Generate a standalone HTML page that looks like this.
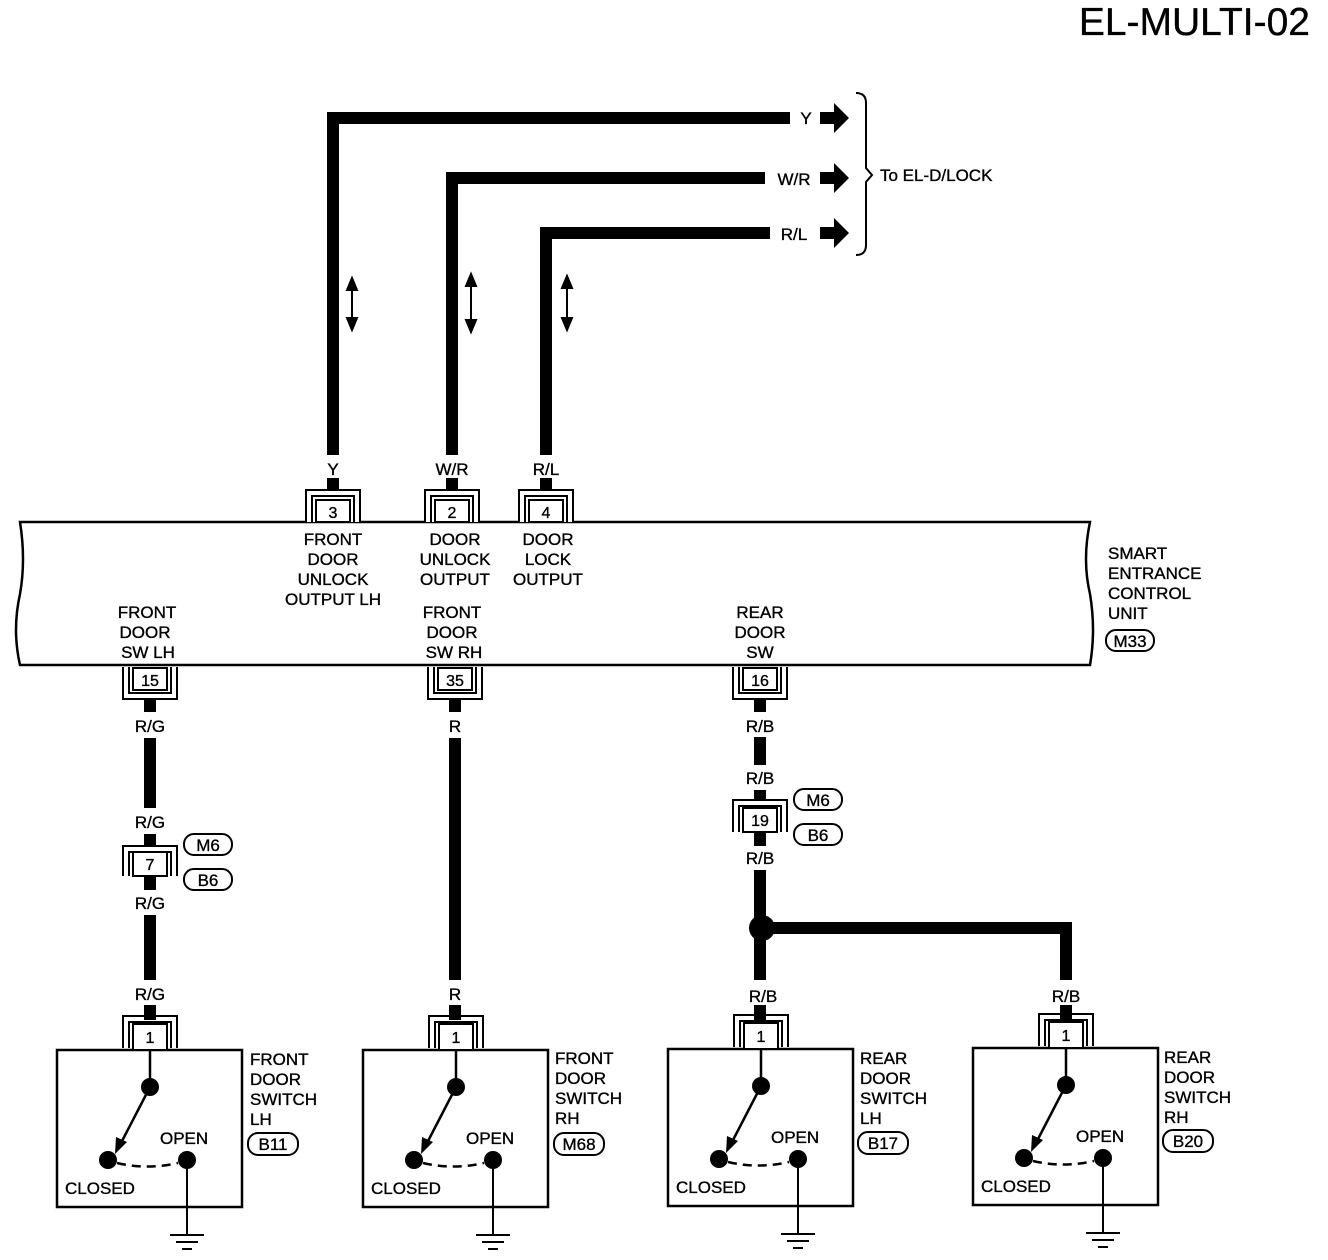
<!DOCTYPE html>
<html><head><meta charset="utf-8"><style>
html,body{margin:0;padding:0;background:#fff;}
svg{display:block;}
text{font-family:"Liberation Sans",sans-serif;font-size:17px;fill:#000;stroke:#000;stroke-width:0.35;}
.c{text-anchor:middle;}
</style></head><body>
<svg width="1328" height="1260" viewBox="0 0 1328 1260" xmlns="http://www.w3.org/2000/svg">
<text x="1310" y="35" style="font-size:39px" text-anchor="end">EL-MULTI-02</text>

<!-- top wires -->
<g fill="none" stroke="#000" stroke-width="12">
<path d="M333,455 V118 H790"/>
<path d="M452,455 V178 H765"/>
<path d="M546,455 V233 H770"/>
<path d="M333,478 V492 M452,478 V492 M546,478 V492"/>
</g>
<text x="806" y="124" class="c">Y</text>
<text x="794" y="185" class="c">W/R</text>
<text x="794" y="240" class="c">R/L</text>
<g fill="#000">
<path d="M820,112 H834 V103 L849,118 L834,133 V124 H820 Z"/>
<path d="M820,172 H834 V163 L849,178 L834,193 V184 H820 Z"/>
<path d="M820,227 H834 V218 L849,233 L834,248 V239 H820 Z"/>
</g>
<path d="M856,93 Q866,93 866,103 V168 L872,175 L866,182 V245 Q866,255 856,255" fill="none" stroke="#000" stroke-width="2"/>
<text x="880" y="181">To EL-D/LOCK</text>

<!-- double arrows -->
<g stroke="#000" stroke-width="2" fill="#000">
<line x1="352" y1="282" x2="352" y2="326"/><path d="M347,290 L352,278 L357,290Z M347,318 L352,330 L357,318Z"/>
<line x1="471" y1="278" x2="471" y2="328"/><path d="M466,286 L471,274 L476,286Z M466,320 L471,332 L476,320Z"/>
<line x1="567" y1="280" x2="567" y2="326"/><path d="M562,288 L567,276 L572,288Z M562,318 L567,330 L572,318Z"/>
</g>
<text x="333" y="475" class="c">Y</text>
<text x="452" y="475" class="c">W/R</text>
<text x="546" y="475" class="c">R/L</text>

<!-- unit box -->
<path d="M20,522 H1090 Q1082,560 1090,594 Q1096,630 1090,665 H20 Q12,630 20,594 Q26,560 20,522 Z" fill="#fff" stroke="#000" stroke-width="2.5"/>

<!-- top connectors -->
<g fill="#fff" stroke="#000" stroke-width="2">
<path d="M306,522 V490 H360 V522 M312,522 V496 H354 V522"/>
<rect x="316" y="500" width="34" height="22"/>
<path d="M425,522 V490 H479 V522 M431,522 V496 H473 V522"/>
<rect x="435" y="500" width="34" height="22"/>
<path d="M519,522 V490 H573 V522 M525,522 V496 H567 V522"/>
<rect x="529" y="500" width="34" height="22"/>
</g>
<text x="333" y="518" class="c" style="font-size:16px">3</text>
<text x="452" y="518" class="c" style="font-size:16px">2</text>
<text x="546" y="518" class="c" style="font-size:16px">4</text>

<g class="c">
<text x="333" y="545" class="c">FRONT</text><text x="333" y="565" class="c">DOOR</text><text x="333" y="585" class="c">UNLOCK</text><text x="333" y="605" class="c">OUTPUT LH</text>
<text x="455" y="545" class="c">DOOR</text><text x="455" y="565" class="c">UNLOCK</text><text x="455" y="585" class="c">OUTPUT</text>
<text x="548" y="545" class="c">DOOR</text><text x="548" y="565" class="c">LOCK</text><text x="548" y="585" class="c">OUTPUT</text>
<text x="147" y="618" class="c">FRONT</text><text x="145" y="638" class="c">DOOR</text><text x="148" y="658" class="c">SW LH</text>
<text x="452" y="618" class="c">FRONT</text><text x="452" y="638" class="c">DOOR</text><text x="454" y="658" class="c">SW RH</text>
<text x="760" y="618" class="c">REAR</text><text x="760" y="638" class="c">DOOR</text><text x="760" y="658" class="c">SW</text>
</g>
<text x="1108" y="559">SMART</text><text x="1108" y="579">ENTRANCE</text><text x="1108" y="599">CONTROL</text><text x="1108" y="619">UNIT</text>
<rect x="1106" y="630" width="48" height="21" rx="10" fill="none" stroke="#000" stroke-width="2"/>
<text x="1130" y="647" class="c">M33</text>

<!-- bottom connectors on unit -->
<g fill="#fff" stroke="#000" stroke-width="2">
<path d="M123,667 V699 H177 V667 M129,667 V693 H171 V667"/>
<rect x="133" y="668" width="34" height="22"/>
<path d="M428,667 V699 H482 V667 M434,667 V693 H476 V667"/>
<rect x="438" y="668" width="34" height="22"/>
<path d="M733,667 V699 H787 V667 M739,667 V693 H781 V667"/>
<rect x="743" y="668" width="34" height="22"/>
</g>
<text x="150" y="686" class="c" style="font-size:16px">15</text>
<text x="455" y="686" class="c" style="font-size:16px">35</text>
<text x="760" y="686" class="c" style="font-size:16px">16</text>

<!-- lower wires -->
<g stroke="#000" stroke-width="12" fill="none">
<path d="M150,699 V712 M150,738 V808 M150,834 V848 M150,876 V890 M150,915 V980 M150,1005 V1020"/>
<path d="M455,699 V712 M455,738 V980 M455,1005 V1020"/>
<path d="M760,699 V712 M760,737 V765 M760,790 V808 M760,832 V846 M760,870 V980 M760,1005 V1020 M760,928 H1066 V980 M1066,1005 V1020"/>
</g>
<circle cx="762" cy="928" r="13" fill="#000"/>
<text x="150" y="732" class="c">R/G</text>
<text x="150" y="828" class="c">R/G</text>
<text x="150" y="909" class="c">R/G</text>
<text x="150" y="1000" class="c">R/G</text>
<text x="455" y="732" class="c">R</text>
<text x="455" y="1000" class="c">R</text>
<text x="760" y="732" class="c">R/B</text>
<text x="760" y="784" class="c">R/B</text>
<text x="760" y="864" class="c">R/B</text>
<text x="763" y="1002" class="c">R/B</text>
<text x="1066" y="1002" class="c">R/B</text>

<!-- connector 7 / 19 -->
<g fill="#fff" stroke="#000" stroke-width="2">
<path d="M123,876 V846 H177 V876 M129,876 V852 H171 V876"/>
<rect x="133" y="852" width="34" height="24"/>
<path d="M733,832 V800 H787 V832 M739,832 V806 H781 V832"/>
<rect x="743" y="808" width="34" height="24"/>
</g>
<text x="150" y="870" class="c" style="font-size:16px">7</text>
<text x="760" y="826" class="c" style="font-size:16px">19</text>
<g fill="none" stroke="#000" stroke-width="2">
<rect x="184" y="834" width="48" height="21" rx="10"/>
<rect x="184" y="869" width="48" height="21" rx="10"/>
<rect x="794" y="789" width="48" height="21" rx="10"/>
<rect x="794" y="824" width="48" height="21" rx="10"/>
</g>
<text x="208" y="851" class="c">M6</text>
<text x="208" y="886" class="c">B6</text>
<text x="818" y="806" class="c">M6</text>
<text x="818" y="841" class="c">B6</text>

<!-- switches -->
<g transform="translate(57,1050)">
<rect x="0" y="0" width="185" height="157" fill="none" stroke="#000" stroke-width="2.5"/>
<path d="M66,-2 V-34 H120 V-2 M72,-2 V-28 H114 V-2" fill="none" stroke="#000" stroke-width="2"/>
<rect x="76" y="-26" width="34" height="26" fill="#fff" stroke="#000" stroke-width="2"/>
<text x="93" y="-7" class="c" style="font-size:16px">1</text>
<line x1="93" y1="0" x2="93" y2="37" stroke="#000" stroke-width="2.5"/>
<circle cx="93" cy="37" r="9"/>
<line x1="93" y1="37" x2="64" y2="93" stroke="#000" stroke-width="2.5"/>
<path d="M58,104 L59,87 L70,92 Z"/>
<circle cx="51" cy="110" r="9"/><circle cx="130" cy="110" r="9"/>
<path d="M60,113 Q90,120 121,113" fill="none" stroke="#000" stroke-width="2.5" stroke-dasharray="9,6"/>
<line x1="130" y1="110" x2="130" y2="185" stroke="#000" stroke-width="2"/>
<path d="M113,185 H147 M119,192 H141 M125,199 H135" stroke="#000" stroke-width="2"/>
<text x="103" y="94">OPEN</text>
<text x="8" y="144">CLOSED</text>
</g>
<g transform="translate(363,1050)">
<rect x="0" y="0" width="185" height="157" fill="none" stroke="#000" stroke-width="2.5"/>
<path d="M66,-2 V-34 H120 V-2 M72,-2 V-28 H114 V-2" fill="none" stroke="#000" stroke-width="2"/>
<rect x="76" y="-26" width="34" height="26" fill="#fff" stroke="#000" stroke-width="2"/>
<text x="93" y="-7" class="c" style="font-size:16px">1</text>
<line x1="93" y1="0" x2="93" y2="37" stroke="#000" stroke-width="2.5"/>
<circle cx="93" cy="37" r="9"/>
<line x1="93" y1="37" x2="64" y2="93" stroke="#000" stroke-width="2.5"/>
<path d="M58,104 L59,87 L70,92 Z"/>
<circle cx="51" cy="110" r="9"/><circle cx="130" cy="110" r="9"/>
<path d="M60,113 Q90,120 121,113" fill="none" stroke="#000" stroke-width="2.5" stroke-dasharray="9,6"/>
<line x1="130" y1="110" x2="130" y2="185" stroke="#000" stroke-width="2"/>
<path d="M113,185 H147 M119,192 H141 M125,199 H135" stroke="#000" stroke-width="2"/>
<text x="103" y="94">OPEN</text>
<text x="8" y="144">CLOSED</text>
</g>
<g transform="translate(668,1049)">
<rect x="0" y="0" width="185" height="157" fill="none" stroke="#000" stroke-width="2.5"/>
<path d="M66,-2 V-34 H120 V-2 M72,-2 V-28 H114 V-2" fill="none" stroke="#000" stroke-width="2"/>
<rect x="76" y="-26" width="34" height="26" fill="#fff" stroke="#000" stroke-width="2"/>
<text x="93" y="-7" class="c" style="font-size:16px">1</text>
<line x1="93" y1="0" x2="93" y2="37" stroke="#000" stroke-width="2.5"/>
<circle cx="93" cy="37" r="9"/>
<line x1="93" y1="37" x2="64" y2="93" stroke="#000" stroke-width="2.5"/>
<path d="M58,104 L59,87 L70,92 Z"/>
<circle cx="51" cy="110" r="9"/><circle cx="130" cy="110" r="9"/>
<path d="M60,113 Q90,120 121,113" fill="none" stroke="#000" stroke-width="2.5" stroke-dasharray="9,6"/>
<line x1="130" y1="110" x2="130" y2="185" stroke="#000" stroke-width="2"/>
<path d="M113,185 H147 M119,192 H141 M125,199 H135" stroke="#000" stroke-width="2"/>
<text x="103" y="94">OPEN</text>
<text x="8" y="144">CLOSED</text>
</g>
<g transform="translate(973,1048)">
<rect x="0" y="0" width="185" height="157" fill="none" stroke="#000" stroke-width="2.5"/>
<path d="M66,-2 V-34 H120 V-2 M72,-2 V-28 H114 V-2" fill="none" stroke="#000" stroke-width="2"/>
<rect x="76" y="-26" width="34" height="26" fill="#fff" stroke="#000" stroke-width="2"/>
<text x="93" y="-7" class="c" style="font-size:16px">1</text>
<line x1="93" y1="0" x2="93" y2="37" stroke="#000" stroke-width="2.5"/>
<circle cx="93" cy="37" r="9"/>
<line x1="93" y1="37" x2="64" y2="93" stroke="#000" stroke-width="2.5"/>
<path d="M58,104 L59,87 L70,92 Z"/>
<circle cx="51" cy="110" r="9"/><circle cx="130" cy="110" r="9"/>
<path d="M60,113 Q90,120 121,113" fill="none" stroke="#000" stroke-width="2.5" stroke-dasharray="9,6"/>
<line x1="130" y1="110" x2="130" y2="185" stroke="#000" stroke-width="2"/>
<path d="M113,185 H147 M119,192 H141 M125,199 H135" stroke="#000" stroke-width="2"/>
<text x="103" y="94">OPEN</text>
<text x="8" y="144">CLOSED</text>
</g>

<!-- switch labels -->
<text x="250" y="1065">FRONT</text><text x="250" y="1085">DOOR</text><text x="250" y="1105">SWITCH</text><text x="250" y="1125">LH</text>
<text x="555" y="1064">FRONT</text><text x="555" y="1084">DOOR</text><text x="555" y="1104">SWITCH</text><text x="555" y="1124">RH</text>
<text x="860" y="1064">REAR</text><text x="860" y="1084">DOOR</text><text x="860" y="1104">SWITCH</text><text x="860" y="1124">LH</text>
<text x="1164" y="1063">REAR</text><text x="1164" y="1083">DOOR</text><text x="1164" y="1103">SWITCH</text><text x="1164" y="1123">RH</text>
<g fill="none" stroke="#000" stroke-width="2">
<rect x="248" y="1133" width="50" height="22" rx="10"/>
<rect x="554" y="1133" width="50" height="22" rx="10"/>
<rect x="858" y="1132" width="50" height="22" rx="10"/>
<rect x="1163" y="1130" width="50" height="22" rx="10"/>
</g>
<text x="273" y="1150" class="c">B11</text>
<text x="579" y="1150" class="c">M68</text>
<text x="883" y="1149" class="c">B17</text>
<text x="1188" y="1147" class="c">B20</text>
</svg>
</body></html>
